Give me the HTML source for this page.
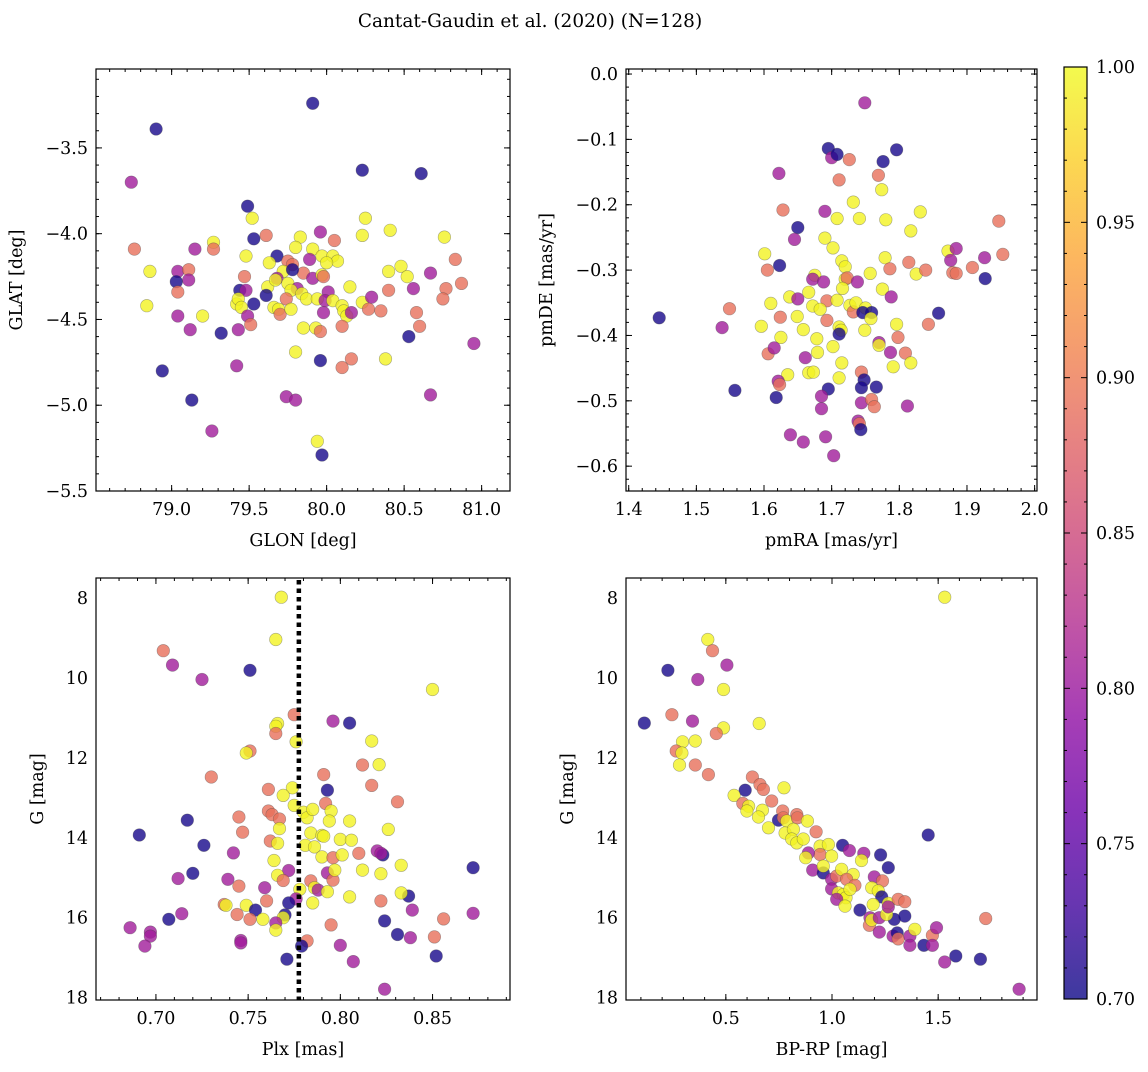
<!DOCTYPE html>
<html><head><meta charset="utf-8"><style>
html,body{margin:0;padding:0;background:#fff;}
svg text{font-family:"DejaVu Serif","Liberation Serif",serif;fill:#000;}
</style></head><body>
<svg id="fig" width="1148" height="1067" viewBox="0 0 1148 1067" xmlns="http://www.w3.org/2000/svg">
<text x="530" y="27" font-size="18.5" text-anchor="middle">Cantat-Gaudin et al. (2020) (N=128)</text>
</svg>
<script>
// ---- Panel 1: GLON vs GLAT ----
const p1x=[79.91,78.90,78.74,80.23,80.61,79.49,79.52,79.61,79.83,79.96,80.05,80.23,80.25,80.41,80.76,78.76,79.15,79.27,79.27,79.53,79.48,79.68,79.63,79.80,79.91,79.89,79.97,80.04,80.07,80.00,79.75,79.78,79.85,79.72,79.78,80.83,80.67,80.40,80.48,80.52,78.86,79.04,79.11,79.11,79.03,79.47,79.44,79.48,79.68,79.75,79.91,79.97,79.98,80.01,80.15,79.62,79.67,79.81,79.77,80.87,80.77,80.75,80.56,80.40,79.61,79.53,79.04,78.84,79.42,79.43,79.45,79.49,79.51,79.66,79.69,79.70,79.74,79.77,79.84,79.87,79.94,79.99,79.98,80.04,80.10,80.11,80.13,80.10,80.16,80.23,80.29,80.27,80.35,80.58,80.60,80.53,80.95,79.04,79.20,79.12,79.32,79.43,79.85,79.93,79.96,79.80,79.96,80.10,80.16,80.38,78.94,79.42,79.13,79.74,79.80,80.67,79.26,79.94,79.97];
const p1y=[-3.24,-3.39,-3.70,-3.63,-3.65,-3.84,-3.91,-4.01,-4.02,-3.99,-4.04,-4.01,-3.91,-3.98,-4.02,-4.09,-4.09,-4.05,-4.09,-4.03,-4.13,-4.13,-4.17,-4.08,-4.09,-4.15,-4.13,-4.13,-4.16,-4.17,-4.16,-4.18,-4.23,-4.22,-4.21,-4.15,-4.23,-4.22,-4.19,-4.25,-4.22,-4.22,-4.21,-4.27,-4.28,-4.25,-4.33,-4.33,-4.26,-4.29,-4.26,-4.24,-4.25,-4.34,-4.31,-4.31,-4.27,-4.32,-4.33,-4.29,-4.32,-4.38,-4.32,-4.33,-4.36,-4.41,-4.34,-4.42,-4.41,-4.38,-4.43,-4.48,-4.53,-4.43,-4.44,-4.47,-4.38,-4.44,-4.35,-4.38,-4.38,-4.39,-4.46,-4.39,-4.42,-4.45,-4.48,-4.54,-4.46,-4.40,-4.37,-4.44,-4.45,-4.46,-4.54,-4.60,-4.64,-4.48,-4.48,-4.56,-4.58,-4.56,-4.55,-4.55,-4.57,-4.69,-4.74,-4.78,-4.73,-4.73,-4.80,-4.77,-4.97,-4.95,-4.97,-4.94,-5.15,-5.21,-5.29];
const p1c=[0.705,0.705,0.805,0.705,0.705,0.705,0.995,0.89,0.995,0.805,0.89,0.995,0.995,0.995,0.995,0.89,0.805,0.995,0.89,0.705,0.995,0.705,0.995,0.995,0.995,0.805,0.995,0.995,0.995,0.995,0.89,0.89,0.89,0.995,0.705,0.89,0.805,0.995,0.995,0.995,0.995,0.805,0.89,0.805,0.705,0.89,0.705,0.805,0.805,0.995,0.805,0.995,0.89,0.805,0.995,0.995,0.995,0.805,0.995,0.89,0.89,0.89,0.805,0.89,0.705,0.705,0.89,0.995,0.995,0.995,0.995,0.805,0.89,0.995,0.995,0.89,0.89,0.995,0.995,0.995,0.995,0.805,0.805,0.995,0.995,0.995,0.995,0.89,0.805,0.995,0.805,0.89,0.89,0.89,0.89,0.705,0.805,0.805,0.995,0.805,0.705,0.805,0.995,0.995,0.89,0.995,0.705,0.89,0.89,0.995,0.705,0.805,0.705,0.805,0.805,0.805,0.805,0.995,0.705];
// ---- Panel 2: pmRA vs pmDE ----
const p2x=[1.749,1.695,1.700,1.708,1.726,1.776,1.796,1.622,1.711,1.769,1.774,1.732,1.628,1.690,1.708,1.741,1.780,1.831,1.947,1.650,1.645,1.817,1.690,1.702,1.601,1.605,1.623,1.715,1.720,1.779,1.786,1.814,1.825,1.839,1.872,1.884,1.876,1.879,1.884,1.908,1.926,1.953,1.927,1.675,1.672,1.688,1.720,1.723,1.738,1.757,1.775,1.666,1.638,1.650,1.693,1.708,1.716,1.727,1.732,1.736,1.788,1.610,1.624,1.649,1.672,1.683,1.693,1.750,1.759,1.746,1.758,1.549,1.445,1.538,1.596,1.658,1.678,1.711,1.714,1.711,1.749,1.625,1.702,1.770,1.770,1.796,1.798,1.843,1.858,1.606,1.615,1.661,1.679,1.787,1.791,1.809,1.817,1.715,1.711,1.666,1.673,1.635,1.621,1.623,1.744,1.748,1.744,1.766,1.695,1.557,1.618,1.685,1.685,1.744,1.759,1.763,1.812,1.739,1.741,1.743,1.639,1.658,1.691,1.703];
const p2y=[-0.044,-0.114,-0.128,-0.123,-0.131,-0.134,-0.116,-0.152,-0.162,-0.155,-0.177,-0.196,-0.208,-0.210,-0.221,-0.221,-0.223,-0.211,-0.225,-0.235,-0.253,-0.240,-0.251,-0.266,-0.275,-0.300,-0.293,-0.286,-0.295,-0.281,-0.298,-0.288,-0.306,-0.300,-0.271,-0.267,-0.285,-0.304,-0.305,-0.296,-0.281,-0.276,-0.313,-0.308,-0.314,-0.318,-0.314,-0.312,-0.318,-0.305,-0.329,-0.334,-0.341,-0.344,-0.347,-0.346,-0.328,-0.354,-0.364,-0.350,-0.341,-0.351,-0.372,-0.371,-0.355,-0.360,-0.377,-0.358,-0.365,-0.365,-0.374,-0.359,-0.373,-0.388,-0.386,-0.391,-0.405,-0.387,-0.392,-0.398,-0.392,-0.403,-0.417,-0.411,-0.415,-0.383,-0.403,-0.383,-0.366,-0.428,-0.419,-0.434,-0.426,-0.426,-0.448,-0.427,-0.442,-0.442,-0.465,-0.457,-0.456,-0.460,-0.470,-0.475,-0.456,-0.468,-0.480,-0.479,-0.482,-0.484,-0.495,-0.493,-0.512,-0.503,-0.498,-0.509,-0.508,-0.531,-0.535,-0.544,-0.552,-0.563,-0.555,-0.584];
const p2c=[0.805,0.705,0.805,0.705,0.89,0.705,0.705,0.805,0.89,0.89,0.995,0.995,0.89,0.805,0.995,0.995,0.995,0.995,0.89,0.705,0.805,0.995,0.995,0.995,0.995,0.89,0.705,0.995,0.995,0.995,0.89,0.89,0.995,0.89,0.995,0.805,0.805,0.89,0.89,0.89,0.805,0.89,0.705,0.995,0.805,0.805,0.995,0.89,0.805,0.995,0.995,0.995,0.995,0.805,0.89,0.995,0.995,0.995,0.89,0.995,0.805,0.995,0.89,0.995,0.995,0.995,0.89,0.995,0.705,0.705,0.995,0.89,0.705,0.805,0.995,0.995,0.995,0.995,0.995,0.705,0.995,0.995,0.995,0.805,0.995,0.995,0.89,0.89,0.705,0.89,0.805,0.805,0.995,0.805,0.995,0.89,0.995,0.995,0.995,0.995,0.995,0.995,0.805,0.89,0.89,0.705,0.705,0.705,0.705,0.705,0.705,0.805,0.805,0.805,0.89,0.89,0.805,0.805,0.89,0.705,0.805,0.805,0.805,0.805];
// ---- Panel 3: Plx vs G ----
const p3x=[0.768,0.765,0.704,0.709,0.751,0.725,0.850,0.775,0.796,0.805,0.766,0.765,0.765,0.776,0.817,0.751,0.749,0.812,0.821,0.730,0.791,0.817,0.761,0.793,0.774,0.769,0.775,0.792,0.831,0.761,0.763,0.767,0.780,0.782,0.785,0.795,0.794,0.805,0.745,0.717,0.767,0.826,0.691,0.747,0.762,0.766,0.784,0.790,0.791,0.800,0.806,0.781,0.786,0.726,0.742,0.810,0.820,0.823,0.822,0.790,0.796,0.801,0.764,0.833,0.812,0.822,0.872,0.720,0.712,0.739,0.745,0.772,0.766,0.769,0.793,0.796,0.797,0.784,0.786,0.788,0.793,0.759,0.778,0.776,0.772,0.760,0.785,0.805,0.837,0.833,0.822,0.737,0.738,0.749,0.754,0.839,0.872,0.714,0.744,0.770,0.769,0.751,0.758,0.707,0.765,0.856,0.824,0.795,0.686,0.697,0.697,0.765,0.831,0.838,0.851,0.694,0.746,0.746,0.782,0.779,0.800,0.852,0.771,0.807,0.824];
const p3y=[7.98,9.04,9.32,9.68,9.81,10.04,10.29,10.92,11.08,11.13,11.14,11.21,11.39,11.60,11.58,11.83,11.88,12.18,12.17,12.48,12.42,12.69,12.79,12.81,12.75,12.94,13.19,13.14,13.10,13.33,13.42,13.53,13.36,13.50,13.29,13.33,13.58,13.58,13.48,13.56,13.77,13.79,13.93,13.86,14.08,14.14,13.88,13.94,13.96,14.04,14.06,14.19,14.23,14.19,14.38,14.39,14.33,14.43,14.39,14.48,14.50,14.43,14.57,14.69,14.81,14.90,14.75,14.89,15.02,15.04,15.21,14.82,14.94,15.07,14.88,15.06,14.81,15.08,15.25,15.31,15.35,15.25,15.29,15.53,15.63,15.58,15.63,15.48,15.46,15.38,15.58,15.67,15.69,15.69,15.81,15.81,15.89,15.90,15.92,15.93,16.00,16.04,16.04,16.04,16.13,16.03,16.08,16.18,16.25,16.36,16.46,16.31,16.42,16.50,16.48,16.71,16.57,16.63,16.58,16.71,16.69,16.96,17.04,17.10,17.79];
const p3c=[0.995,0.995,0.89,0.805,0.705,0.805,0.995,0.89,0.805,0.705,0.995,0.995,0.89,0.995,0.995,0.89,0.995,0.89,0.995,0.89,0.89,0.89,0.89,0.705,0.995,0.995,0.995,0.89,0.89,0.89,0.89,0.89,0.995,0.995,0.995,0.995,0.995,0.995,0.89,0.705,0.995,0.995,0.705,0.89,0.89,0.995,0.995,0.995,0.995,0.995,0.995,0.995,0.995,0.705,0.805,0.89,0.805,0.705,0.805,0.995,0.89,0.995,0.995,0.995,0.995,0.995,0.705,0.705,0.805,0.805,0.89,0.805,0.995,0.89,0.805,0.89,0.995,0.89,0.995,0.805,0.995,0.805,0.995,0.805,0.705,0.89,0.995,0.995,0.705,0.995,0.89,0.89,0.995,0.995,0.705,0.805,0.805,0.805,0.89,0.705,0.995,0.89,0.995,0.705,0.805,0.89,0.705,0.89,0.805,0.805,0.805,0.995,0.705,0.805,0.89,0.805,0.805,0.805,0.89,0.705,0.805,0.705,0.705,0.805,0.805];
const plxRef=[0.7775];
// ---- Panel 4: BP-RP vs G ----
const p4x=[1.531,0.415,0.437,0.227,0.505,0.368,0.489,0.116,0.246,0.343,0.657,0.489,0.455,0.296,0.356,0.266,0.293,0.282,0.356,0.418,0.625,0.661,0.677,0.774,0.591,0.539,0.580,0.607,0.599,0.672,0.716,0.748,0.768,0.654,0.771,0.787,0.834,0.837,0.884,0.925,0.701,0.779,0.818,0.810,0.834,0.865,0.944,0.983,0.944,0.998,1.050,1.082,0.889,1.150,1.229,1.139,1.265,0.876,0.909,0.959,0.959,0.998,1.022,1.045,1.100,1.069,1.108,1.199,1.238,0.998,1.030,1.053,1.066,1.085,1.022,1.187,1.218,1.234,1.194,1.265,1.061,1.132,1.312,1.343,1.293,1.343,1.179,1.176,1.187,1.223,1.223,1.257,1.265,1.288,1.307,1.312,1.367,1.367,1.390,1.433,1.473,1.473,1.492,1.453,1.583,1.531,1.699,1.724,1.881];
const p4y=[7.98,9.04,9.32,9.81,9.68,10.04,10.29,11.13,10.92,11.08,11.14,11.25,11.39,11.60,11.58,11.83,11.88,12.18,12.18,12.42,12.48,12.67,12.79,12.75,12.81,12.94,13.14,13.21,13.33,13.31,13.08,13.56,13.33,13.48,13.50,13.58,13.42,13.50,13.58,13.85,13.75,13.88,13.79,14.03,14.13,14.03,14.21,14.17,14.42,14.46,14.19,14.32,14.38,14.39,14.43,14.57,14.75,14.50,14.81,14.88,14.71,15.04,14.96,14.79,14.92,15.04,15.19,14.98,15.08,15.28,15.38,15.42,15.50,15.29,15.54,15.25,15.33,15.48,15.67,15.64,15.71,15.81,15.54,15.60,16.04,15.96,16.00,16.19,16.06,16.00,16.36,15.92,15.73,16.46,16.38,16.53,16.46,16.69,16.29,16.69,16.44,16.69,16.25,13.93,16.96,17.11,17.04,16.02,17.79];
const p4c=[0.995,0.995,0.89,0.705,0.805,0.805,0.995,0.705,0.89,0.805,0.995,0.995,0.89,0.995,0.995,0.89,0.995,0.995,0.89,0.89,0.89,0.89,0.89,0.995,0.705,0.995,0.89,0.995,0.995,0.995,0.89,0.705,0.89,0.995,0.89,0.995,0.89,0.89,0.995,0.89,0.995,0.995,0.995,0.995,0.995,0.995,0.995,0.995,0.89,0.995,0.705,0.805,0.805,0.805,0.705,0.995,0.705,0.995,0.805,0.705,0.995,0.805,0.89,0.995,0.995,0.89,0.89,0.805,0.89,0.805,0.995,0.995,0.995,0.995,0.805,0.995,0.995,0.705,0.995,0.995,0.995,0.705,0.89,0.89,0.705,0.705,0.805,0.89,0.995,0.805,0.805,0.995,0.805,0.805,0.705,0.89,0.805,0.805,0.995,0.705,0.89,0.805,0.805,0.705,0.705,0.805,0.705,0.89,0.805];
// ---- Colorbar ----
const cbTicks=[0.70,0.75,0.80,0.85,0.90,0.95,1.00];
const cbRange=[0.70,1.00];

const NS="http://www.w3.org/2000/svg";
const svg=document.getElementById('fig');
function mk(tag,attrs,parent){const e=document.createElementNS(NS,tag);for(const k in attrs)e.setAttribute(k,attrs[k]);(parent||svg).appendChild(e);return e;}
const stops=[[13,8,135],[65,4,157],[106,0,168],[143,13,164],[177,42,144],[204,71,120],[225,100,98],[242,132,75],[252,166,54],[252,206,37],[240,249,33]];
function plasma(t){t=Math.max(0,Math.min(1,t));const f=t*10,i=Math.min(9,Math.floor(f)),r=f-i;const a=stops[i],b=stops[i+1];return 'rgb('+a.map((v,k)=>Math.round(v+(b[k]-v)*r)).join(',')+')';}
function cmap(c){return plasma((c-cbRange[0])/(cbRange[1]-cbRange[0]));}
function fmt(v,d){return (v<0?'\u2212':'')+Math.abs(v).toFixed(d);}
const FS=17.5;

function panel(o){
  const g=mk('g',{});
  
  
  const sx=v=>o.L+(v-o.xr[0])/(o.xr[1]-o.xr[0])*(o.R-o.L);
  const sy=v=>o.B-(v-o.yr[0])/(o.yr[1]-o.yr[0])*(o.B-o.T);
  o.sx=sx;o.sy=sy;
  const pts=mk('g',{},g);
  
  
  for(let i=0;i<o.x.length;i++){
    const c=mk('circle',{cx:sx(o.x[i]).toFixed(1),cy:sy(o.y[i]).toFixed(1),r:6.3,fill:cmap(o.c[i]),'fill-opacity':0.8,stroke:'#444','stroke-opacity':0.45,'stroke-width':0.6},pts);
    
    
  }
  if(o.extra)o.extra(g);
  const tg=mk('g',{stroke:'#000','stroke-width':1},g);
  
  
  const eps=1e-6;
  function ticksX(step,len){const s=Math.ceil(o.xr[0]/step-eps);for(let k=s;k*step<=o.xr[1]+eps;k++){const x=sx(k*step);mk('line',{x1:x,x2:x,y1:o.B,y2:o.B-len},tg);mk('line',{x1:x,x2:x,y1:o.T,y2:o.T+len},tg);}}
  function ticksY(step,len){const s=Math.ceil(o.yr[0]/step-eps);for(let k=s;k*step<=o.yr[1]+eps;k++){const y=sy(k*step);mk('line',{x1:o.L,x2:o.L+len,y1:y,y2:y},tg);mk('line',{x1:o.R,x2:o.R-len,y1:y,y2:y},tg);}}
  ticksX(o.xmin,3);ticksX(o.xmaj,6);ticksY(o.ymin,3);ticksY(o.ymaj,6);
  mk('rect',{x:o.L,y:o.T,width:o.R-o.L,height:o.B-o.T,fill:'none',stroke:'#000','stroke-width':1.2},g);
  const xl=mk('g',{},g);
  
  
  o.xt.forEach(v=>{const t=mk('text',{x:sx(v),y:o.B+24,'font-size':FS,'text-anchor':'middle'},xl);t.textContent=fmt(v,o.xd);});
  const yl=mk('g',{},g);
  
  
  o.yt.forEach(v=>{const t=mk('text',{x:o.L-8,y:sy(v)+6,'font-size':FS,'text-anchor':'end'},yl);t.textContent=fmt(v,o.yd);});
  const xt=mk('text',{x:(o.L+o.R)/2,y:o.B+55,'font-size':FS,'text-anchor':'middle'},g);
  xt.textContent=o.xlab;
  
  
  const yy=(o.T+o.B)/2;
  const yt=mk('text',{x:o.ylx,y:yy,'font-size':FS,'text-anchor':'middle',transform:'rotate(-90 '+o.ylx+' '+yy+')'},g);
  yt.textContent=o.ylab;
  
  
}

panel({name:'panel-glon-glat',L:96,R:510,T:69,B:491,xr:[78.512,81.183],yr:[-5.5,-3.04],x:p1x,y:p1y,c:p1c,
  xmaj:0.5,xmin:0.1,ymaj:0.5,ymin:0.1,xt:[79,79.5,80,80.5,81],yt:[-3.5,-4,-4.5,-5,-5.5],xd:1,yd:1,xlab:'GLON [deg]',ylab:'GLAT [deg]',ylx:22});
panel({name:'panel-pmra-pmde',L:626,R:1037,T:69,B:491,xr:[1.396,2.0035],yr:[-0.638,0.0077],x:p2x,y:p2y,c:p2c,
  xmaj:0.1,xmin:0.02,ymaj:0.1,ymin:0.02,xt:[1.4,1.5,1.6,1.7,1.8,1.9,2.0],yt:[0,-0.1,-0.2,-0.3,-0.4,-0.5,-0.6],xd:1,yd:1,xlab:'pmRA [mas/yr]',ylab:'pmDE [mas/yr]',ylx:552});
panel({name:'panel-plx-g',L:96,R:510,T:578,B:1000,xr:[0.6675,0.892],yr:[18.06,7.5],x:p3x,y:p3y,c:p3c,
  xmaj:0.05,xmin:0.01,ymaj:2,ymin:0.5,xt:[0.70,0.75,0.80,0.85],yt:[8,10,12,14,16,18],xd:2,yd:0,xlab:'Plx [mas]',ylab:'G [mag]',ylx:43,
  extra:function(g){const x=this.sx(plxRef[0]);const l=mk('line',{x1:x,x2:x,y1:580,y2:1000,stroke:'#000','stroke-width':4.5,'stroke-dasharray':'4.5 4'},g);
    
    }});
panel({name:'panel-bprp-g',L:626,R:1037,T:578,B:1000,xr:[0.0298,1.9655],yr:[18.06,7.5],x:p4x,y:p4y,c:p4c,
  xmaj:0.5,xmin:0.1,ymaj:2,ymin:0.5,xt:[0.5,1.0,1.5],yt:[8,10,12,14,16,18],xd:1,yd:0,xlab:'BP-RP [mag]',ylab:'G [mag]',ylx:573});

(function(){
  const L=1064,R=1087,T=67,B=999;
  const g=mk('g',{});
  
  
  const defs=mk('defs',{},g);
  const lg=mk('linearGradient',{id:'cbg',x1:0,y1:1,x2:0,y2:0},defs);
  for(let i=0;i<=20;i++){mk('stop',{offset:i/20,'stop-color':plasma(i/20),'stop-opacity':0.8},lg);}
  mk('rect',{x:L,y:T,width:R-L,height:B-T,fill:'url(#cbg)'},g);
  const sy=v=>B-(v-cbRange[0])/(cbRange[1]-cbRange[0])*(B-T);
  for(let k=70;k<=100;k++){const y=sy(k/100);const len=(k%5===0)?6:3;mk('line',{x1:R,x2:R-len,y1:y,y2:y,stroke:'#000','stroke-width':1},g);mk('line',{x1:L,x2:L+len,y1:y,y2:y,stroke:'#000','stroke-width':1},g);}
  mk('rect',{x:L,y:T,width:R-L,height:B-T,fill:'none',stroke:'#000','stroke-width':1.2},g);
  cbTicks.forEach(v=>{const t=mk('text',{x:R+9,y:sy(v)+6,'font-size':FS},g);t.textContent=v.toFixed(2);
    
    });
})();
</script>
</body></html>
